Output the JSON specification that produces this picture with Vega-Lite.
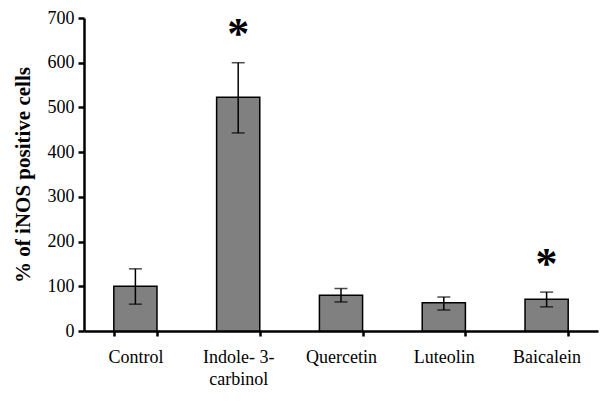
{
  "$schema": "https://vega.github.io/schema/vega-lite/v6.json",
  "autosize": {"type": "none"},
  "padding": {"left": 84, "top": 18, "right": 18, "bottom": 78},
  "width": 514,
  "height": 313,
  "background": "white",
  "config": {
    "view": {"stroke": null},
    "font": "Liberation Serif"
  },
  "data": {
    "values": [
      {"treatment": "Control", "value": 100, "lo": 60, "hi": 139, "star": null},
      {"treatment": "Indole- 3-carbinol", "value": 523, "lo": 443, "hi": 600, "star": 676},
      {"treatment": "Quercetin", "value": 80, "lo": 65, "hi": 95, "star": null},
      {"treatment": "Luteolin", "value": 63, "lo": 47, "hi": 76, "star": null},
      {"treatment": "Baicalein", "value": 71, "lo": 54, "hi": 87, "star": 162}
    ]
  },
  "encoding": {
    "x": {
      "field": "treatment",
      "type": "nominal",
      "sort": null,
      "scale": {"paddingInner": 0.58, "paddingOuter": 0.29},
      "axis": {
        "title": null,
        "labelAngle": 0,
        "labelFont": "Liberation Serif",
        "labelFontSize": 18,
        "labelColor": "black",
        "labelPadding": 12,
        "labelLineHeight": 22,
        "labelExpr": "datum.value == 'Indole- 3-carbinol' ? ['Indole- 3-', 'carbinol'] : datum.value",
        "tickBand": "extent",
        "tickSize": 5,
        "tickWidth": 2.5,
        "tickColor": "black",
        "domainColor": "black",
        "domainWidth": 2.5,
        "grid": false
      }
    }
  },
  "layer": [
    {
      "mark": {"type": "bar", "fill": "#808080", "stroke": "black", "strokeWidth": 1.5},
      "encoding": {
        "y": {
          "field": "value",
          "type": "quantitative",
          "scale": {"domain": [0, 700], "nice": false},
          "axis": {
            "title": "% of iNOS positive cells",
            "titleFont": "Liberation Serif",
            "titleFontSize": 21,
            "titleFontWeight": "bold",
            "titleColor": "black",
            "titlePadding": 14,
            "values": [0, 100, 200, 300, 400, 500, 600, 700],
            "labelFont": "Liberation Serif",
            "labelFontSize": 18,
            "labelColor": "black",
            "labelPadding": 4,
            "tickSize": 6,
            "tickWidth": 2.5,
            "tickColor": "black",
            "domainColor": "black",
            "domainWidth": 2.5,
            "grid": false
          }
        }
      }
    },
    {
      "mark": {"type": "rule", "color": "black", "strokeWidth": 1.5},
      "encoding": {
        "y": {"field": "lo", "type": "quantitative"},
        "y2": {"field": "hi"}
      }
    },
    {
      "mark": {"type": "tick", "color": "black", "thickness": 1.5, "size": 13, "orient": "horizontal"},
      "encoding": {
        "y": {"field": "lo", "type": "quantitative"}
      }
    },
    {
      "mark": {"type": "tick", "color": "black", "thickness": 1.5, "size": 13, "orient": "horizontal"},
      "encoding": {
        "y": {"field": "hi", "type": "quantitative"}
      }
    },
    {
      "transform": [{"filter": "datum.star != null"}],
      "mark": {"type": "text", "text": "*", "font": "Liberation Serif", "fontWeight": "bold", "fontSize": 44, "baseline": "middle", "dy": 6, "color": "black"},
      "encoding": {
        "y": {"field": "star", "type": "quantitative"}
      }
    }
  ]
}
